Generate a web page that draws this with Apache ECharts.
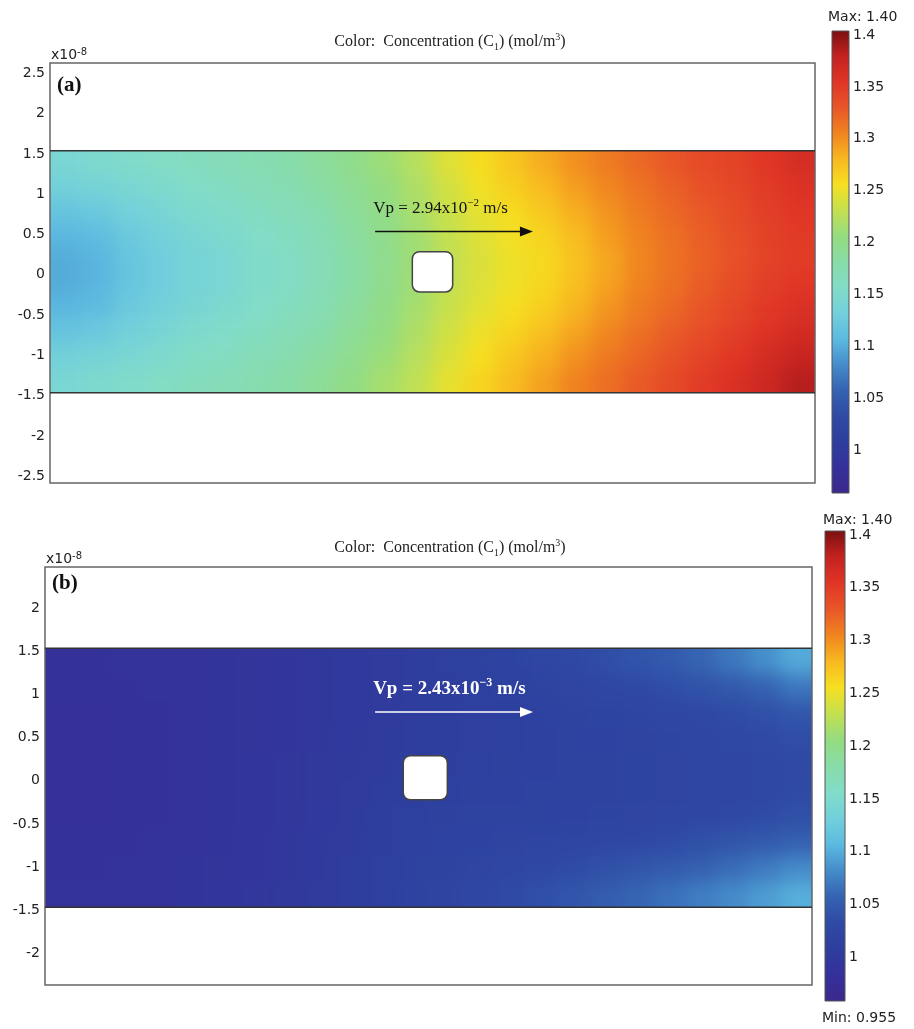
<!DOCTYPE html>
<html>
<head>
<meta charset="utf-8">
<script src="https://cdn.jsdelivr.net/npm/echarts@6/dist/echarts.min.js"></script>
<style>
  html, body { margin: 0; padding: 0; background: #fff; }
  #wrap { position: relative; width: 914px; height: 1029px; }
  #field, #chart { position: absolute; left: 0; top: 0; width: 914px; height: 1029px; }
  #field { filter: blur(9px); }
</style>
</head>
<body>
<div id="wrap">
  <div id="field"></div>
  <div id="chart"></div>
</div>
<script>
// channel split in 24 columns along the flow, 10 rows across (row centres, x1e-8 m)
const colCount = 24;
const rowY = [1.35, 1.05, 0.75, 0.45, 0.15, -0.15, -0.45, -0.75, -1.05, -1.35];
const rowHalf = 0.15;

// concentration C1 (mol/m3), panel (a), Vp = 2.94e-2 m/s
const concA = [
  [1.140,1.145,1.150,1.155,1.160,1.165,1.170,1.175,1.185,1.195,1.207,1.220,1.240,1.254,1.268,1.282,1.296,1.306,1.316,1.326,1.335,1.340,1.350,1.360],
  [1.130,1.135,1.140,1.147,1.153,1.158,1.164,1.170,1.180,1.190,1.202,1.216,1.234,1.249,1.263,1.275,1.289,1.300,1.310,1.320,1.330,1.337,1.346,1.355],
  [1.115,1.120,1.130,1.138,1.146,1.151,1.158,1.164,1.173,1.186,1.198,1.213,1.230,1.244,1.255,1.267,1.281,1.294,1.306,1.316,1.325,1.334,1.343,1.350],
  [1.102,1.107,1.120,1.130,1.139,1.145,1.153,1.159,1.168,1.182,1.195,1.210,1.227,1.240,1.250,1.260,1.274,1.289,1.302,1.312,1.322,1.331,1.341,1.347],
  [1.096,1.101,1.116,1.126,1.136,1.141,1.151,1.156,1.166,1.180,1.193,1.208,1.225,1.238,1.247,1.256,1.270,1.285,1.300,1.310,1.320,1.330,1.340,1.345],
  [1.096,1.101,1.116,1.126,1.136,1.141,1.151,1.156,1.166,1.180,1.194,1.209,1.226,1.239,1.248,1.258,1.272,1.287,1.302,1.312,1.323,1.333,1.343,1.350],
  [1.102,1.107,1.120,1.130,1.139,1.145,1.153,1.160,1.169,1.183,1.197,1.212,1.229,1.242,1.253,1.263,1.278,1.293,1.306,1.316,1.327,1.337,1.348,1.356],
  [1.115,1.120,1.130,1.138,1.146,1.152,1.159,1.166,1.175,1.188,1.201,1.216,1.233,1.247,1.259,1.272,1.286,1.300,1.312,1.323,1.333,1.343,1.354,1.363],
  [1.130,1.135,1.140,1.147,1.154,1.159,1.166,1.172,1.182,1.193,1.206,1.220,1.238,1.253,1.267,1.280,1.295,1.307,1.318,1.329,1.340,1.350,1.362,1.372],
  [1.140,1.145,1.150,1.156,1.161,1.166,1.172,1.178,1.188,1.199,1.212,1.225,1.244,1.259,1.274,1.288,1.302,1.313,1.324,1.335,1.346,1.357,1.368,1.380]
];

// concentration C1 (mol/m3), panel (b), Vp = 2.43e-3 m/s
const concB = [
  [0.982,0.982,0.983,0.984,0.985,0.986,0.988,0.990,0.993,0.996,0.999,1.002,1.006,1.010,1.015,1.020,1.026,1.032,1.039,1.046,1.055,1.066,1.080,1.095],
  [0.981,0.981,0.982,0.983,0.984,0.986,0.988,0.990,0.993,0.996,0.999,1.002,1.005,1.008,1.011,1.014,1.018,1.022,1.027,1.032,1.038,1.045,1.054,1.066],
  [0.980,0.980,0.981,0.982,0.984,0.986,0.988,0.990,0.993,0.996,0.999,1.002,1.005,1.007,1.009,1.011,1.014,1.016,1.019,1.022,1.026,1.030,1.035,1.042],
  [0.980,0.980,0.981,0.982,0.984,0.986,0.988,0.991,0.994,0.997,1.000,1.003,1.005,1.007,1.009,1.011,1.013,1.015,1.017,1.019,1.022,1.025,1.028,1.032],
  [0.980,0.980,0.981,0.982,0.984,0.986,0.989,0.992,0.995,0.998,1.001,1.004,1.006,1.008,1.010,1.011,1.012,1.014,1.016,1.018,1.020,1.022,1.025,1.028],
  [0.980,0.980,0.981,0.982,0.984,0.986,0.989,0.992,0.995,0.999,1.003,1.006,1.008,1.010,1.011,1.012,1.013,1.014,1.016,1.018,1.020,1.022,1.025,1.029],
  [0.980,0.980,0.981,0.982,0.984,0.986,0.989,0.992,0.996,1.000,1.004,1.008,1.010,1.012,1.013,1.014,1.015,1.016,1.018,1.020,1.023,1.026,1.030,1.035],
  [0.981,0.981,0.982,0.983,0.985,0.987,0.990,0.993,0.997,1.001,1.005,1.009,1.012,1.015,1.017,1.019,1.021,1.023,1.026,1.030,1.035,1.040,1.046,1.052],
  [0.982,0.982,0.983,0.984,0.986,0.988,0.991,0.994,0.998,1.002,1.006,1.010,1.014,1.018,1.022,1.026,1.030,1.035,1.040,1.046,1.052,1.060,1.068,1.078],
  [0.983,0.983,0.984,0.985,0.987,0.989,0.992,0.995,0.999,1.003,1.007,1.012,1.017,1.022,1.028,1.034,1.041,1.048,1.055,1.062,1.070,1.078,1.087,1.097]
];

const yTicksA = [-2.5, -2, -1.5, -1, -0.5, 0, 0.5, 1, 1.5, 2, 2.5];
const yTicksB = [-2, -1.5, -1, -0.5, 0, 0.5, 1, 1.5, 2];
const barTicks = [1, 1.05, 1.1, 1.15, 1.2, 1.25, 1.3, 1.35, 1.4];
const cRange = [0.955, 1.40];
const wallY = [1.5, -1.5];
// obstacle: centre x (column units), centre y, half side
const obstacleA = [12.0, 0, 0.25];
const obstacleB = [11.9, 0, 0.255];
// velocity arrow: x start, x end, y
const arrowA = [10.2, 15.15, 0.5];
const arrowB = [10.33, 15.27, 0.76];

const colors = ['#3c288c','#35309a','#2e3e9e','#2f4aa4','#3562b2','#458cca','#5cbae0','#72d0dc','#82dcc8',
  '#88dca8','#94dc80','#c4e050','#f6e020','#f8b820','#f08420','#e85628','#e03526','#c42220','#7a1010'];

const serif = '"Liberation Serif", "Times New Roman", serif';
const sans = '"DejaVu Sans", Verdana, sans-serif';

const fieldGrids = [
  { left: 50, top: 63, width: 765, height: 420 },
  { left: 45, top: 567, width: 767, height: 418 }
];
const fieldYRange = [[-2.62, 2.59], [-2.40, 2.44]];

function toCells(rows) {
  return rows.flatMap((row, r) => row.map((v, c) => [c, rowY[r], v]));
}

// cells at the channel edges reach past the walls so the soft layer stays solid up to the clip
function cellItem(params, api) {
  const c = api.value(0), yc = api.value(1);
  const p0 = api.coord([c, yc + rowHalf]);
  const p1 = api.coord([c + 1, yc - rowHalf]);
  const pad = 30;
  const x0 = p0[0] - (c === 0 ? pad : 0);
  const x1 = p1[0] + (c === colCount - 1 ? pad : 0.7);
  const y0 = p0[1] - (yc === rowY[0] ? pad : 0);
  const y1 = p1[1] + (yc === rowY[rowY.length - 1] ? pad : 0.7);
  return {
    type: 'rect',
    shape: { x: x0, y: y0, width: x1 - x0, height: y1 - y0 },
    style: { fill: api.visual('color') }
  };
}

function wallItem(params, api) {
  const cs = params.coordSys;
  const p = api.coord([0, api.value(1)]);
  return {
    type: 'line',
    shape: { x1: cs.x, y1: p[1], x2: cs.x + cs.width, y2: p[1] },
    style: { stroke: '#333', lineWidth: 1.5 }
  };
}

function obstacleItem(params, api) {
  const p = api.coord([api.value(0), api.value(1)]);
  const s = api.size([0, api.value(2) * 2])[1];
  return {
    type: 'rect',
    shape: { x: p[0] - s / 2, y: p[1] - s / 2, width: s, height: s, r: 7 },
    style: { fill: '#fff', stroke: '#444', lineWidth: 1.5 }
  };
}

function arrowItem(label, color, rich) {
  return function (params, api) {
    const a = api.coord([api.value(0), api.value(2)]);
    const b = api.coord([api.value(1), api.value(2)]);
    return {
      type: 'group',
      children: [
        { type: 'line', shape: { x1: a[0], y1: a[1], x2: b[0] - 10, y2: b[1] }, style: { stroke: color, lineWidth: 1.5 } },
        { type: 'polygon', shape: { points: [[b[0], b[1]], [b[0] - 13, b[1] - 5], [b[0] - 13, b[1] + 5]] }, style: { fill: color } },
        { type: 'text', x: a[0] - 2, y: a[1] - 23, style: { text: label, rich: rich, align: 'left', verticalAlign: 'middle' } }
      ]
    };
  };
}

function barItem(params, api) {
  const p0 = api.coord([0, api.value(1)]);
  const p1 = api.coord([1, api.value(0)]);
  const stops = colors.map((c, i) => ({ offset: i / (colors.length - 1), color: c }));
  return {
    type: 'rect',
    shape: { x: p0[0], y: p0[1], width: p1[0] - p0[0], height: p1[1] - p0[1] },
    style: { fill: new echarts.graphic.LinearGradient(0, 1, 0, 0, stops), stroke: '#555', lineWidth: 1 }
  };
}

const richA = {
  n: { fontFamily: serif, fontSize: 17, fill: '#111', lineHeight: 22 },
  sup: { fontFamily: serif, fontSize: 11, fill: '#111', lineHeight: 12, verticalAlign: 'top' }
};
const richB = {
  n: { fontFamily: serif, fontSize: 19, fontWeight: 'bold', fill: '#fff', lineHeight: 24 },
  sup: { fontFamily: serif, fontSize: 12, fontWeight: 'bold', fill: '#fff', lineHeight: 12, verticalAlign: 'top' }
};
const titleRich = {
  n: { fontFamily: serif, fontSize: 16, fill: '#222', lineHeight: 20 },
  sub: { fontFamily: serif, fontSize: 10, fill: '#222', lineHeight: 11, verticalAlign: 'bottom' },
  sup: { fontFamily: serif, fontSize: 10, fill: '#222', lineHeight: 10, verticalAlign: 'top' }
};
const expRich = {
  n: { fontFamily: sans, fontSize: 14, fill: '#222', lineHeight: 16 },
  sup: { fontFamily: sans, fontSize: 10, fill: '#222', lineHeight: 10, verticalAlign: 'top' }
};
const titleText = '{n|Color:  Concentration (C}{sub|1}{n|) (mol/m}{sup|3}{n|)}';

// labels sit a few pixels below their tick, as in the original plot
function yAxisField(grid, ticks, labels) {
  return {
    gridIndex: grid, type: 'value', min: fieldYRange[grid][0], max: fieldYRange[grid][1],
    axisLine: { show: false }, axisTick: { show: false }, splitLine: { show: false },
    axisLabel: { show: labels, customValues: ticks, fontFamily: sans, fontSize: 14, color: '#222', margin: 5,
      verticalAlign: 'top', lineHeight: 6 }
  };
}
function yAxisBar(grid, side, labels) {
  return {
    gridIndex: grid, type: 'value', position: side, min: cRange[0], max: cRange[1],
    axisLine: { show: false }, splitLine: { show: false },
    axisTick: { show: true, inside: side === 'left', length: 4, customValues: barTicks, lineStyle: { color: '#333', width: 1 } },
    axisLabel: { show: labels, customValues: barTicks, fontFamily: sans, fontSize: 14, color: '#222', margin: 4,
      verticalAlign: 'top', lineHeight: 8 }
  };
}
const fieldXAxes = [
  { gridIndex: 0, type: 'value', min: 0, max: colCount, show: false },
  { gridIndex: 1, type: 'value', min: 0, max: colCount, show: false }
];
const fieldVisualMaps = [
  { show: false, seriesIndex: 0, dimension: 2, min: cRange[0], max: cRange[1], inRange: { color: colors } },
  { show: false, seriesIndex: 1, dimension: 2, min: cRange[0], max: cRange[1], inRange: { color: colors } }
];

// concentration field, drawn on its own softened layer underneath
const field = echarts.init(document.getElementById('field'));
field.setOption({
  animation: false,
  grid: fieldGrids,
  xAxis: fieldXAxes,
  yAxis: [yAxisField(0, yTicksA, false), yAxisField(1, yTicksB, false)],
  visualMap: fieldVisualMaps,
  series: [
    { type: 'custom', name: 'C1 (a)', xAxisIndex: 0, yAxisIndex: 0, data: toCells(concA), encode: { x: 0, y: 1 }, renderItem: cellItem, clip: false, silent: true },
    { type: 'custom', name: 'C1 (b)', xAxisIndex: 1, yAxisIndex: 1, data: toCells(concB), encode: { x: 0, y: 1 }, renderItem: cellItem, clip: false, silent: true }
  ]
});

const chart = echarts.init(document.getElementById('chart'));
chart.setOption({
  backgroundColor: 'transparent',
  animation: false,
  grid: [
    Object.assign({ show: true, borderColor: '#666', borderWidth: 1.5 }, fieldGrids[0]),
    Object.assign({ show: true, borderColor: '#666', borderWidth: 1.5 }, fieldGrids[1]),
    { left: 832, top: 31, width: 17, height: 462 },
    { left: 825, top: 531, width: 20, height: 470 }
  ],
  xAxis: fieldXAxes.concat([
    { gridIndex: 2, type: 'value', min: 0, max: 1, show: false },
    { gridIndex: 3, type: 'value', min: 0, max: 1, show: false }
  ]),
  yAxis: [
    yAxisField(0, yTicksA, true),
    yAxisField(1, yTicksB, true),
    yAxisBar(2, 'right', true),
    yAxisBar(2, 'left', false),
    yAxisBar(3, 'right', true),
    yAxisBar(3, 'left', false)
  ],
  graphic: [
    { type: 'text', x: 450, y: 42, style: { text: titleText, rich: titleRich, align: 'center', verticalAlign: 'middle' } },
    { type: 'text', x: 450, y: 548, style: { text: titleText, rich: titleRich, align: 'center', verticalAlign: 'middle' } },
    { type: 'text', x: 51, y: 63, style: { text: '{n|x10}{sup|-8}', rich: expRich, align: 'left', verticalAlign: 'bottom' } },
    { type: 'text', x: 46, y: 567, style: { text: '{n|x10}{sup|-8}', rich: expRich, align: 'left', verticalAlign: 'bottom' } },
    { type: 'text', x: 57, y: 86, style: { text: '(a)', font: 'bold 21px ' + serif, fill: '#111', align: 'left', verticalAlign: 'middle' } },
    { type: 'text', x: 52, y: 584, style: { text: '(b)', font: 'bold 21px ' + serif, fill: '#111', align: 'left', verticalAlign: 'middle' } },
    { type: 'text', x: 828, y: 17, style: { text: 'Max: 1.40', font: '14px ' + sans, fill: '#222', align: 'left', verticalAlign: 'middle' } },
    { type: 'text', x: 823, y: 520, style: { text: 'Max: 1.40', font: '14px ' + sans, fill: '#222', align: 'left', verticalAlign: 'middle' } },
    { type: 'text', x: 822, y: 1018, style: { text: 'Min: 0.955', font: '14px ' + sans, fill: '#222', align: 'left', verticalAlign: 'middle' } }
  ],
  series: [
    { type: 'custom', xAxisIndex: 0, yAxisIndex: 0, data: wallY.map(y => [0, y]), renderItem: wallItem, silent: true },
    { type: 'custom', xAxisIndex: 1, yAxisIndex: 1, data: wallY.map(y => [0, y]), renderItem: wallItem, silent: true },
    { type: 'custom', xAxisIndex: 0, yAxisIndex: 0, data: [obstacleA], renderItem: obstacleItem, silent: true },
    { type: 'custom', xAxisIndex: 1, yAxisIndex: 1, data: [obstacleB], renderItem: obstacleItem, silent: true },
    { type: 'custom', xAxisIndex: 0, yAxisIndex: 0, data: [arrowA], silent: true,
      renderItem: arrowItem('{n|Vp = 2.94x10}{sup|−2}{n| m/s}', '#111', richA) },
    { type: 'custom', xAxisIndex: 1, yAxisIndex: 1, data: [arrowB], silent: true,
      renderItem: arrowItem('{n|Vp = 2.43x10}{sup|−3}{n| m/s}', '#fff', richB) },
    { type: 'custom', xAxisIndex: 2, yAxisIndex: 2, data: [cRange], renderItem: barItem, silent: true },
    { type: 'custom', xAxisIndex: 3, yAxisIndex: 4, data: [cRange], renderItem: barItem, silent: true }
  ]
});

// clip the softened field to the two channels, using the chart's own axes
const clipPath = [0, 1].map(g => {
  const a = field.convertToPixel({ xAxisIndex: g, yAxisIndex: g }, [0, wallY[0]]);
  const b = field.convertToPixel({ xAxisIndex: g, yAxisIndex: g }, [colCount, wallY[1]]);
  return 'M' + a[0] + ' ' + a[1] + ' H' + b[0] + ' V' + b[1] + ' H' + a[0] + ' Z';
}).join(' ');
document.getElementById('field').style.clipPath = "path('" + clipPath + "')";
</script>
</body>
</html>
